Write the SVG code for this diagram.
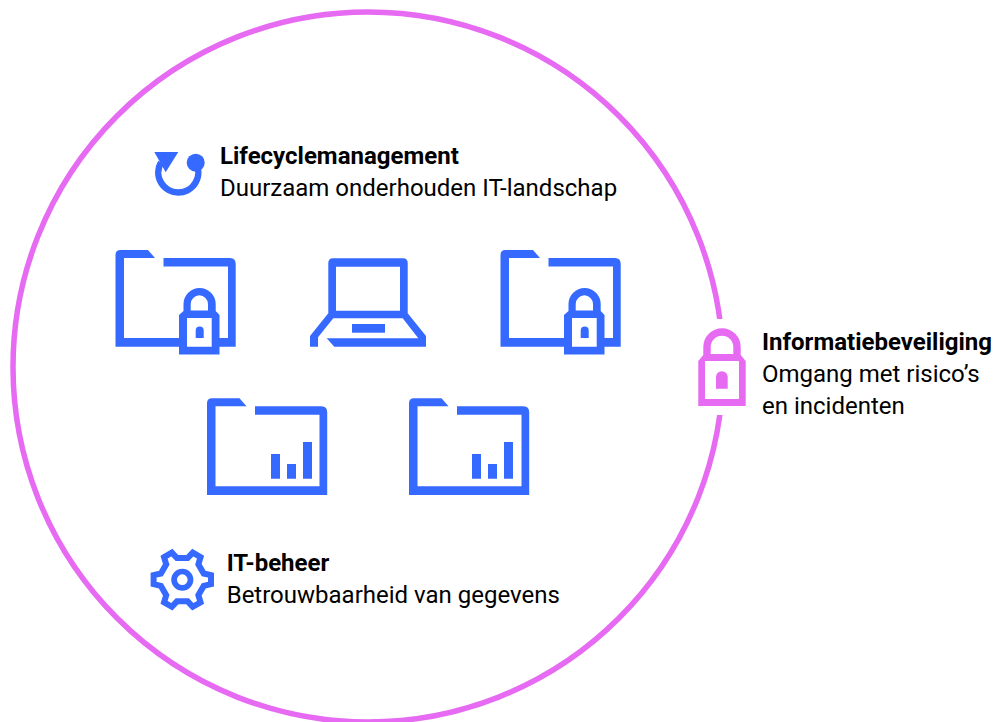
<svg xmlns="http://www.w3.org/2000/svg" width="995" height="722" viewBox="0 0 995 722">
<style>
text{font-family:Roboto,"Liberation Sans",sans-serif;font-size:24px;font-weight:400;fill:#000}
text.b{font-weight:700}
.blue{fill:#3569ff}
.line{fill:none;stroke:#3569ff;stroke-width:6.5}
.pink{fill:#e66af2}
</style>
<defs>
<path id="folder" class="blue" fill-rule="evenodd" d="M120.500 250H148L155 258H124V338H179V346.700H115.500V255Q115.500 250 120.500 250ZM163.500 258H230Q235.700 258 235.700 264V346.700H219V338H228V266.500H163.500Z"/>
<path id="chart" class="blue" d="M0 12h9v24.700H0zM16 22h9v14.700H16zM32 0h9v36.700H32z"/>
<path id="lock" class="blue" fill-rule="evenodd" d="M183.500 311V304A16.100 16.100 0 0 1 215.700 304V311L219.500 315V354.500H179V315ZM190.700 310.500H208V304A8.650 8.650 0 0 0 190.700 304ZM187 318V346.700H211.700V318ZM195.700 338V330.500A4 4 0 0 1 203.700 330.500V338Z"/>
</defs>
<g id="ring">
<circle cx="368" cy="367" r="355" fill="none" stroke="#e66af2" stroke-width="5.500"/>
</g>
<g id="lifecycle">
<path class="line" d="M195.700 162.700A20 20 0 1 1 161 162.500"/>
<circle class="blue" cx="195.700" cy="162.700" r="9"/>
<path class="blue" d="M154.300 152H178.300L165.700 172.300Z"/>
<text class="b" x="220" y="164">Lifecyclemanagement</text>
<text x="220" y="196">Duurzaam onderhouden IT-landschap</text>
</g>
<g id="folder-lock-1"><use href="#folder"/><use href="#lock"/></g>
<g id="laptop">
<path class="blue" fill-rule="evenodd" d="M333 258.300H403Q407.700 258.300 407.700 263V313.300L426 336V346.700H334.300L326.700 338.300H418.300L402.700 318.300H333.300L318 337.300V346.700H310V336L328.300 313.300V263Q328.300 258.300 333 258.300ZM336 266.700V310.700H400V266.700Z"/>
<rect class="blue" x="352" y="324" width="33" height="8.700"/>
</g>
<g id="folder-lock-2" transform="translate(385 0)"><use href="#folder"/><use href="#lock"/></g>
<g id="folder-chart-1">
<path class="blue" fill-rule="evenodd" transform="translate(91.500 148.300)" d="M120.500 250H148L155 258H124V338H228V266.500H163.500V258H230Q235.700 258 235.700 264V346.700H115.500V255Q115.500 250 120.500 250Z"/>
<use href="#chart" x="271" y="442"/>
</g>
<g id="folder-chart-2">
<path class="blue" fill-rule="evenodd" transform="translate(293.500 148.300)" d="M120.500 250H148L155 258H124V338H228V266.500H163.500V258H230Q235.700 258 235.700 264V346.700H115.500V255Q115.500 250 120.500 250Z"/>
<use href="#chart" x="472" y="442"/>
</g>
<g id="it-beheer">
<g transform="translate(182.300 579.700)" fill="none" stroke="#3569ff" stroke-width="6">
<circle r="8.200" stroke-width="5.700"/>
<path d="M28.700 -4.500V4.500L21.400 6.200L16.070 15.430L18.250 22.600L10.450 27.100L5.330 21.630H-5.330L-10.450 27.100L-18.250 22.600L-16.070 15.430L-21.400 6.200L-28.700 4.500V-4.500L-21.400 -6.200L-16.070 -15.430L-18.250 -22.600L-10.450 -27.100L-5.330 -21.630H5.330L10.450 -27.100L18.250 -22.600L16.070 -15.430L21.400 -6.200Z"/>
</g>
<text class="b" x="226.700" y="571">IT-beheer</text>
<text x="226.700" y="603">Betrouwbaarheid van gegevens</text>
</g>
<g id="informatiebeveiliging">
<rect x="690" y="319" width="60" height="96" fill="#fff"/>
<path class="pink" fill-rule="evenodd" d="M703.300 355V347A18.700 18.700 0 0 1 740.700 347V355L745.700 361V406H698.300V361ZM710.700 354H733.300V347A11.300 11.300 0 0 0 710.700 347ZM705 361V399H739V361ZM716 388.700V377A5.850 5.850 0 0 1 727.700 377V388.700Z"/>
<text class="b" x="762" y="350">Informatiebeveiliging</text>
<text x="762" y="382">Omgang met risico’s</text>
<text x="762" y="414">en incidenten</text>
</g>
</svg>
